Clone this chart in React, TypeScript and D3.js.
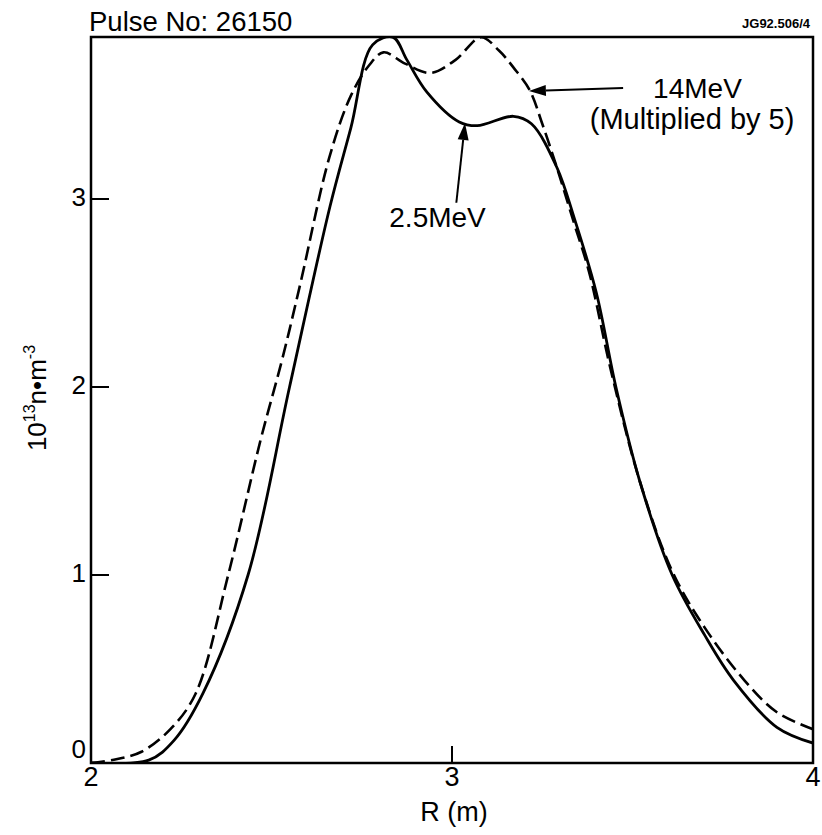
import React from "react";
import * as d3 from "d3";

// 14 MeV profile (multiplied by 5) — dashed
const R14 = [2.0, 2.07, 2.14, 2.22, 2.29, 2.38, 2.47, 2.53, 2.58, 2.66, 2.72, 2.77, 2.81, 2.87, 2.94, 3.01, 3.08, 3.13, 3.17, 3.215, 3.25, 3.29, 3.34, 3.38, 3.44, 3.52, 3.61, 3.7, 3.81, 3.9, 4.0];
const N14 = [0.0, 0.02, 0.06, 0.18, 0.37, 1.0, 1.72, 2.15, 2.55, 3.22, 3.55, 3.71, 3.78, 3.72, 3.67, 3.74, 3.86, 3.79, 3.7, 3.58, 3.4, 3.17, 2.86, 2.61, 2.09, 1.5, 1.02, 0.72, 0.44, 0.27, 0.18];

// 2.5 MeV profile — solid
const R25 = [2.0, 2.16, 2.23, 2.31, 2.435, 2.55, 2.662, 2.72, 2.78, 2.837, 2.875, 2.93, 3.02, 3.07, 3.17, 3.22, 3.29, 3.34, 3.4, 3.454, 3.52, 3.61, 3.7, 3.78, 3.9, 4.0];
const N25 = [0.0, 0.015, 0.12, 0.37, 1.0, 2.0, 2.96, 3.38, 3.82, 3.86, 3.74, 3.57, 3.41, 3.39, 3.44, 3.4, 3.17, 2.89, 2.5, 2.0, 1.5, 1.0, 0.68, 0.44, 0.19, 0.106];

const xTicks = [2, 3, 4];
const yTicks = [0, 1, 2, 3];

const FONT = "'Liberation Sans', Arial, Helvetica, sans-serif";

export default function App() {
  const W = 822;
  const H = 835;
  const left = 91, right = 813, top = 37, bottom = 763;
  const x = d3.scaleLinear().domain([2, 4]).range([left, right]);
  const y = d3.scaleLinear().domain([0, 3]).range([bottom, 199]);

  const line = d3
    .line<[number, number]>()
    .x((d) => x(d[0]))
    .y((d) => y(d[1]))
    .curve(d3.curveCatmullRom.alpha(0.5));

  const d14 = line(R14.map((r, i) => [r, N14[i]] as [number, number])) || "";
  const d25 = line(R25.map((r, i) => [r, N25[i]] as [number, number])) || "";

  // annotation arrows in data units
  const arrow14 = { from: [3.474, 3.59], to: [3.213, 3.574] };
  const arrow25 = { from: [3.012, 2.98], to: [3.036, 3.404] };

  const arrowHead = (a: { from: number[]; to: number[] }) => {
    const x1 = x(a.from[0]), y1 = y(a.from[1]);
    const x2 = x(a.to[0]), y2 = y(a.to[1]);
    const ang = Math.atan2(y2 - y1, x2 - x1);
    const L = 17, Wd = 5.5;
    const bx = x2 - L * Math.cos(ang), by = y2 - L * Math.sin(ang);
    const px = -Math.sin(ang) * Wd, py = Math.cos(ang) * Wd;
    return (
      <g>
        <line x1={x1} y1={y1} x2={bx} y2={by} stroke="#000" strokeWidth={2} />
        <polygon points={`${x2},${y2} ${bx + px},${by + py} ${bx - px},${by - py}`} fill="#000" />
      </g>
    );
  };

  return (
    <div style={{ position: "absolute", left: 0, top: 0 }}>
      <svg width={W} height={H} style={{ display: "block", background: "#fff" }} fontFamily={FONT}>
        <defs>
          <clipPath id="plotclip">
            <rect x={left} y={top} width={right - left} height={bottom - top} />
          </clipPath>
        </defs>

        {/* frame */}
        <rect x={left} y={top} width={right - left} height={bottom - top} fill="none" stroke="#000" strokeWidth={2.5} />

        {/* y ticks */}
        {yTicks.filter((t) => t > 0).map((t) => (
          <line key={"yt" + t} x1={left} x2={left + 18} y1={y(t)} y2={y(t)} stroke="#000" strokeWidth={2} />
        ))}
        {yTicks.map((t) => (
          <text key={"yl" + t} x={left - 5} y={t === 0 ? y(t) - 5 : y(t) + 7} textAnchor="end" fontSize={26}>
            {t}
          </text>
        ))}

        {/* x ticks */}
        {xTicks.filter((t) => t > 2 && t < 4).map((t) => (
          <line key={"xt" + t} x1={x(t)} x2={x(t)} y1={bottom} y2={bottom - 17} stroke="#000" strokeWidth={2} />
        ))}
        {xTicks.map((t) => (
          <text key={"xl" + t} x={x(t)} y={bottom + 23} textAnchor="middle" fontSize={27}>
            {t}
          </text>
        ))}

        {/* curves */}
        <g clipPath="url(#plotclip)">
          <path d={d14} fill="none" stroke="#000" strokeWidth={2.6} strokeDasharray="14,6" />
          <path d={d25} fill="none" stroke="#000" strokeWidth={2.8} />
        </g>

        {/* annotations */}
        {arrowHead(arrow14)}
        {arrowHead(arrow25)}
        <text x={x(3.68)} y={y(3.59)} dy="0.36em" textAnchor="middle" fontSize={28}>14MeV</text>
        <text x={x(3.665)} y={y(3.43)} dy="0.36em" textAnchor="middle" fontSize={29}>(Multiplied by 5)</text>
        <text x={x(2.96)} y={y(2.85)} textAnchor="middle" fontSize={28}>2.5MeV</text>

        {/* titles */}
        <text x={89} y={31} fontSize={27.5}>Pulse No: 26150</text>
        <text x={810} y={28} textAnchor="end" fontSize={13} fontWeight="bold">JG92.506/4</text>
        <text x={(left + right) / 2 + 2} y={821} textAnchor="middle" fontSize={27}>R (m)</text>
        <text transform={`translate(46, 398) rotate(-90)`} textAnchor="middle" fontSize={26}>
          10<tspan dy={-11} fontSize={16}>13</tspan><tspan dy={11}>n•m</tspan><tspan dy={-11} fontSize={16}>-3</tspan>
        </text>
      </svg>
    </div>
  );
}
